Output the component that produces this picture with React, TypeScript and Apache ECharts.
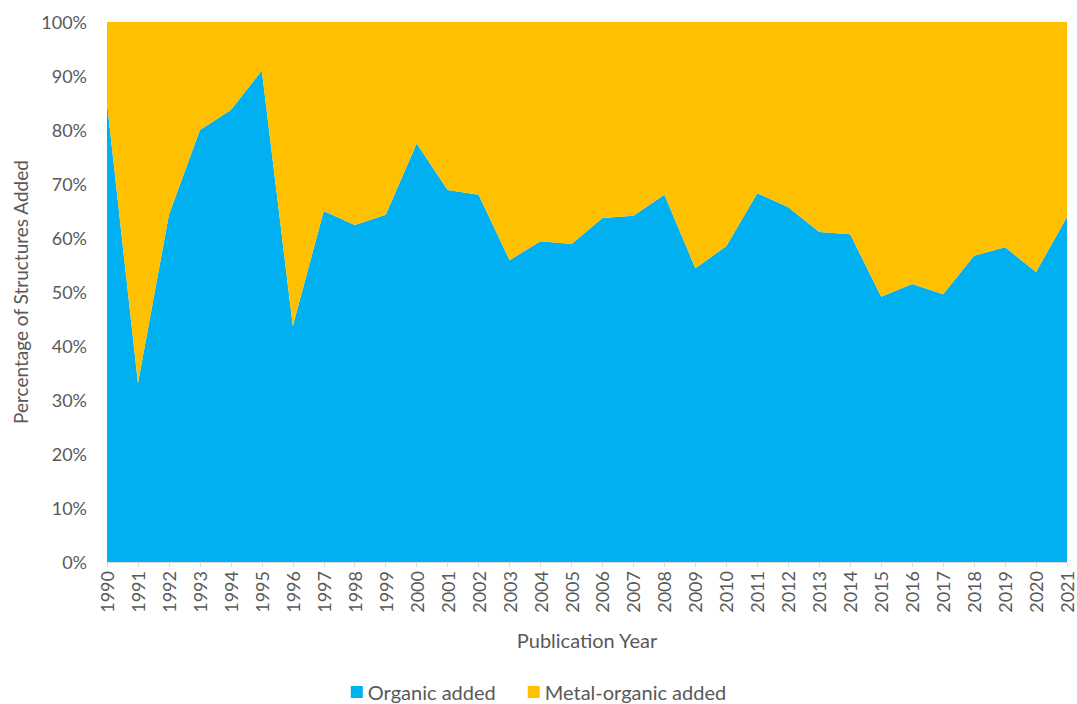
import React, { useEffect, useRef } from "react";
import * as echarts from "echarts";

const years = [
  "1990", "1991", "1992", "1993", "1994", "1995", "1996", "1997", "1998", "1999",
  "2000", "2001", "2002", "2003", "2004", "2005", "2006", "2007", "2008", "2009",
  "2010", "2011", "2012", "2013", "2014", "2015", "2016", "2017", "2018", "2019",
  "2020", "2021",
];

const organicAdded = [
  85.0, 33.1, 64.3, 80.0, 83.7, 91.0, 43.7, 65.0, 62.4, 64.3,
  77.5, 68.9, 68.0, 55.9, 59.4, 58.9, 63.7, 64.1, 68.0, 54.4,
  58.5, 68.3, 65.7, 61.1, 60.7, 49.1, 51.5, 49.6, 56.7, 58.3,
  53.7, 63.9,
];

const metalOrganicAdded = [
  15.0, 66.9, 35.7, 20.0, 16.3, 9.0, 56.3, 35.0, 37.6, 35.7,
  22.5, 31.1, 32.0, 44.1, 40.6, 41.1, 36.3, 35.9, 32.0, 45.6,
  41.5, 31.7, 34.3, 38.9, 39.3, 50.9, 48.5, 50.4, 43.3, 41.7,
  46.3, 36.1,
];

const FONT = "Lato, 'Open Sans', sans-serif";
const TEXT = "#595959";

export default function App() {
  const ref = useRef<HTMLDivElement>(null);
  useEffect(() => {
    if (!ref.current) return;
    const chart = echarts.init(ref.current, undefined, { renderer: "svg" });
    chart.setOption({
      animation: false,
      backgroundColor: "#ffffff",
      textStyle: { fontFamily: FONT },
      grid: { left: 107, right: 10, top: 22, bottom: 142, containLabel: false },
      legend: {
        bottom: -3,
        left: "center",
        icon: "rect",
        itemWidth: 12,
        itemHeight: 12,
        itemGap: 32,
        textStyle: { fontFamily: FONT, fontSize: 20, color: TEXT },
        data: ["Organic added", "Metal-organic added"],
      },
      xAxis: {
        type: "category",
        data: years,
        boundaryGap: false,
        name: "Publication Year",
        nameLocation: "middle",
        nameGap: 68,
        nameTextStyle: { fontFamily: FONT, fontSize: 20, color: TEXT },
        axisLine: { lineStyle: { color: "#d9d9d9", width: 1 } },
        axisTick: { show: true, length: 5, lineStyle: { color: "#d9d9d9" } },
        axisLabel: {
          rotate: 90,
          interval: 0,
          fontFamily: FONT,
          fontSize: 18,
          color: TEXT,
          margin: 9,
        },
      },
      yAxis: {
        type: "value",
        min: 0,
        max: 100,
        interval: 10,
        name: "Percentage of Structures Added",
        nameLocation: "middle",
        nameGap: 77,
        nameTextStyle: { fontFamily: FONT, fontSize: 19, color: TEXT },
        axisLine: { show: false },
        axisTick: { show: false },
        splitLine: { show: false },
        axisLabel: {
          formatter: "{value}%",
          fontFamily: FONT,
          fontSize: 18,
          color: TEXT,
          margin: 20,
        },
      },
      series: [
        {
          name: "Organic added",
          type: "line",
          stack: "total",
          data: organicAdded,
          symbol: "none",
          lineStyle: { width: 0 },
          itemStyle: { color: "#00B0F0" },
          areaStyle: { color: "#00B0F0", opacity: 1 },
        },
        {
          name: "Metal-organic added",
          type: "line",
          stack: "total",
          data: metalOrganicAdded,
          symbol: "none",
          lineStyle: { width: 0 },
          itemStyle: { color: "#FFC000" },
          areaStyle: { color: "#FFC000", opacity: 1 },
        },
      ],
    });
    return () => chart.dispose();
  }, []);
  return (
    <div
      ref={ref}
      style={{ position: "fixed", left: 0, top: 0, width: 1077, height: 704 }}
    />
  );
}
